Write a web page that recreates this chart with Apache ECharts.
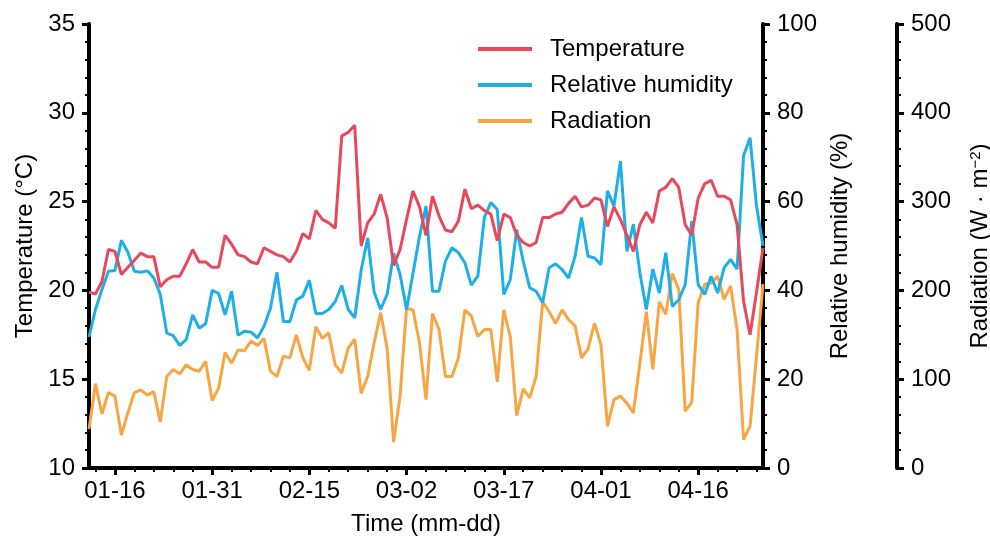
<!DOCTYPE html>
<html lang="en">

<head>
    <meta charset="UTF-8">
    <script src="https://cdn.jsdelivr.net/npm/echarts@6/dist/echarts.min.js"></script>
    <title>Temperature, humidity and radiation</title>
    <style>
        html, body { margin: 0; padding: 0; background: #fff; }
    </style>
</head>

<body>
    <div id="main" style="width: 990px;height:538px;"></div>
    <script>
        // daily values, 01-12 .. 04-26
        var temperature = [19.9, 19.8, 20.5, 22.3, 22.2, 20.9, 21.3, 21.7, 22.1, 21.9,
            21.9, 20.2, 20.6, 20.8, 20.8, 21.5, 22.3, 21.6, 21.6, 21.3,
            21.3, 23.1, 22.6, 22.0, 21.9, 21.6, 21.5, 22.4, 22.2, 22.0,
            21.9, 21.6, 22.2, 23.2, 22.9, 24.5, 24.0, 23.8, 23.5, 28.7,
            28.9, 29.3, 22.5, 23.8, 24.3, 25.4, 24.1, 21.4, 22.3, 24.0,
            25.6, 24.7, 23.1, 25.3, 24.2, 23.4, 23.3, 23.9, 25.7, 24.6,
            24.8, 24.5, 24.3, 22.8, 24.3, 24.1, 23.1, 22.7, 22.5, 22.7,
            24.1, 24.1, 24.3, 24.4, 24.9, 25.3, 24.7, 24.8, 25.2, 25.1,
            23.6, 24.7, 24.0, 23.1, 22.2, 23.7, 24.4, 23.8, 25.6, 25.8,
            26.3, 25.8, 23.7, 23.1, 25.2, 26.0, 26.2, 25.3, 25.3, 25.1,
            23.7, 19.4, 17.5, 19.9, 22.4];
        var humidity = [29.5, 35.7, 40.2, 44.3, 44.5, 51.3, 48.6, 44.3, 44.1, 44.4,
            42.8, 39.1, 30.4, 29.8, 27.6, 28.9, 34.5, 31.5, 32.5, 40.0,
            39.3, 34.5, 39.8, 29.9, 30.8, 30.6, 29.3, 31.9, 36.0, 44.1,
            33.0, 33.0, 37.9, 38.7, 42.3, 34.8, 34.8, 35.7, 37.5, 41.1,
            35.7, 33.8, 44.6, 51.8, 39.6, 35.7, 39.1, 48.3, 43.6, 35.7,
            43.9, 52.2, 59.0, 39.8, 39.8, 46.6, 49.6, 48.5, 46.2, 41.2,
            43.2, 56.4, 59.8, 58.2, 39.1, 42.4, 53.7, 46.6, 40.6, 39.8,
            37.2, 45.1, 46.0, 44.7, 42.8, 47.7, 56.4, 47.7, 47.3, 45.8,
            62.4, 59.0, 69.1, 48.8, 54.9, 44.0, 35.7, 44.8, 39.4, 48.5,
            36.4, 37.9, 41.3, 55.6, 41.3, 39.1, 43.2, 39.4, 45.1, 47.0,
            44.8, 70.3, 74.4, 59.0, 50.0];
        var radiation = [44, 95, 61, 85, 81, 37, 62, 85, 88, 82,
            86, 52, 103, 111, 106, 116, 111, 109, 120, 76,
            90, 130, 118, 133, 132, 143, 138, 146, 109, 103,
            126, 124, 150, 124, 110, 159, 146, 152, 116, 107,
            135, 145, 84, 103, 141, 175, 135, 29, 81, 180,
            178, 141, 77, 174, 156, 103, 103, 124, 178, 171,
            148, 156, 156, 97, 178, 148, 59, 89, 79, 103,
            187, 176, 163, 178, 167, 160, 124, 134, 163, 139,
            47, 77, 81, 73, 62, 118, 176, 111, 187, 173,
            219, 201, 64, 74, 186, 207, 208, 216, 190, 205,
            156, 32, 47, 126, 207];
        var tickLabels = ['01-16', '01-31', '02-15', '03-02', '03-17', '04-01', '04-16'];

        // categories: every day from 01-12 to 04-26
        var days = [];
        var monthLen = [31, 28, 31, 30];
        for (var m = 1, d = 12; days.length < temperature.length; d++) {
            if (d > monthLen[m - 1]) { m++; d = 1; }
            days.push((m < 10 ? '0' + m : m) + '-' + (d < 10 ? '0' + d : d));
        }

        var font = 'Arial, "Liberation Sans", sans-serif';
        var black = '#000';

        function yAxisBase(opt) {
            var base = {
                type: 'value',
                nameLocation: 'middle',
                nameRotate: 90,
                nameTextStyle: { fontSize: 24, color: black, fontFamily: font },
                axisLine: { show: true, lineStyle: { color: black, width: 4 } },
                axisTick: { show: true, length: 7, lineStyle: { color: black, width: 3 } },
                minorTick: { show: true, splitNumber: 5, length: 4, lineStyle: { color: black, width: 2 } },
                axisLabel: { fontSize: 24, color: black, fontFamily: font, margin: 14 },
                splitLine: { show: false },
                minorSplitLine: { show: false }
            };
            return Object.assign(base, opt);
        }

        var myChart = echarts.init(document.getElementById('main'));
        var option = {
            animation: false,
            grid: { left: 89, right: 227, top: 24, bottom: 70, outerBoundsMode: 'none', containLabel: false },
            legend: {
                orient: 'vertical',
                left: 473,
                top: 32,
                icon: 'rect',
                itemWidth: 54,
                itemHeight: 4,
                itemGap: 12,
                textStyle: { fontSize: 24, color: black, fontFamily: font, padding: [0, 0, 0, 13] },
                data: ['Temperature', 'Relative humidity', 'Radiation']
            },
            xAxis: [{
                type: 'category',
                data: days,
                boundaryGap: false,
                name: 'Time (mm-dd)',
                nameLocation: 'middle',
                nameGap: 44,
                nameTextStyle: { fontSize: 24, color: black, fontFamily: font },
                axisLine: { lineStyle: { color: black, width: 4 } },
                axisTick: {
                    length: 7,
                    lineStyle: { color: black, width: 3 },
                    interval: function (i, v) { return tickLabels.indexOf(v) >= 0; }
                },
                axisLabel: {
                    fontSize: 24, color: black, fontFamily: font, margin: 11,
                    interval: function (i, v) { return tickLabels.indexOf(v) >= 0; }
                }
            }, {
                // minor ticks every 3 days
                type: 'category',
                data: days,
                boundaryGap: false,
                position: 'bottom',
                axisLine: { show: false },
                axisLabel: { show: false },
                axisTick: {
                    length: 4,
                    lineStyle: { color: black, width: 2 },
                    interval: function (i) { return i % 3 === 1; }
                }
            }],
            yAxis: [
                yAxisBase({ position: 'left', min: 10, max: 35, interval: 5, name: 'Temperature (°C)', nameGap: 52 }),
                yAxisBase({ position: 'right', min: 0, max: 100, interval: 20, name: 'Relative humidity (%)', nameGap: 64 }),
                yAxisBase({
                    position: 'right', offset: 134, min: 0, max: 500, interval: 100,
                    name: 'Radiation (W · m{sup|−2})', nameGap: 71,
                    nameTextStyle: {
                        fontSize: 24, color: black, fontFamily: font,
                        rich: { sup: { fontSize: 15, color: black, fontFamily: font, verticalAlign: 'top', lineHeight: 14 } }
                    }
                })
            ],
            series: [{
                name: 'Temperature',
                type: 'line',
                yAxisIndex: 0,
                data: temperature,
                showSymbol: false,
                itemStyle: { color: '#E8485B' },
                lineStyle: { color: '#E8485B', width: 3 },
                z: 3
            }, {
                name: 'Relative humidity',
                type: 'line',
                yAxisIndex: 1,
                data: humidity,
                showSymbol: false,
                itemStyle: { color: '#1DAFE5' },
                lineStyle: { color: '#1DAFE5', width: 3 },
                z: 2
            }, {
                name: 'Radiation',
                type: 'line',
                yAxisIndex: 2,
                data: radiation,
                showSymbol: false,
                itemStyle: { color: '#F8A544' },
                lineStyle: { color: '#F8A544', width: 3 },
                z: 1
            }]
        };
        myChart.setOption(option);
    </script>
</body>

</html>
